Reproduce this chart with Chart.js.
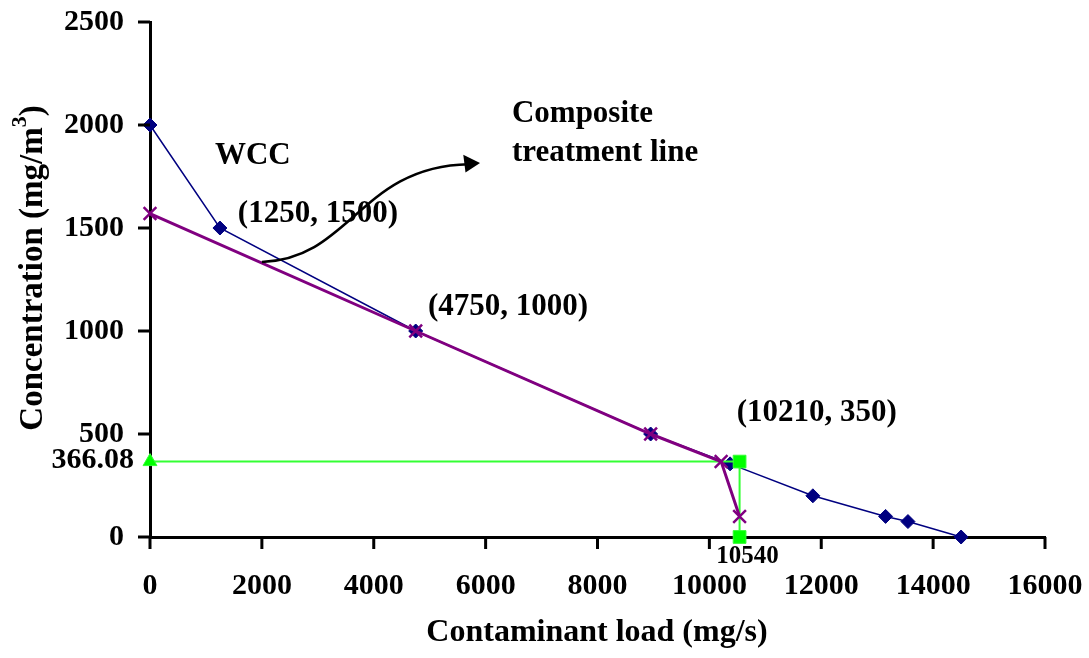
<!DOCTYPE html>
<html lang="en">
<head>
<meta charset="UTF-8">
<title>WCC chart</title>
<script src="https://cdn.jsdelivr.net/npm/chart.js"></script>
<style>
body {margin:0; background:#fff}
#wrap {width:1089px; height:658px; position:relative}
</style>
</head>
<body>
<div id="wrap"><canvas id="myChart" width="1089" height="658"></canvas></div>
<script>
// water composite curve (WCC)
var wccX = [0, 1250, 4750, 8950, 10370, 11850, 13150, 13550, 14500];
var wccY = [2000, 1500, 1000, 500, 355, 200, 100, 75, 0];

// composite treatment line
var compX = [0, 4750, 8950, 10210, 10540];
var compY = [1570, 1000, 500, 366.08, 100];

// green guide lines
var guideX = [0, 10540, 10540];
var guideY = [366.08, 366.08, 0];

var xTicks = [0, 2000, 4000, 6000, 8000, 10000, 12000, 14000, 16000];
var yTicks = [0, 500, 1000, 1500, 2000, 2500];

var serif = '"Liberation Serif", "Times New Roman", serif';

function pts(xs, ys) {
  return xs.map(function (x, i) { return {x: x, y: ys[i]}; });
}

// tick marks, labels, arrow and axis titles
var notes = {
  id: 'notes',
  afterDraw: function (chart) {
    var ctx = chart.ctx;
    var sx = chart.scales.x, sy = chart.scales.y;
    var X = function (v) { return sx.getPixelForValue(v); };
    var Y = function (v) { return sy.getPixelForValue(v); };
    var area = chart.chartArea;
    ctx.save();

    // outside tick marks
    ctx.strokeStyle = '#000';
    ctx.lineWidth = 3;
    ctx.beginPath();
    xTicks.forEach(function (v) {
      ctx.moveTo(X(v), area.bottom);
      ctx.lineTo(X(v), area.bottom + 12);
    });
    yTicks.forEach(function (v) {
      ctx.moveTo(area.left, Y(v));
      ctx.lineTo(area.left - 12, Y(v));
    });
    ctx.stroke();

    ctx.fillStyle = '#000';
    ctx.textBaseline = 'middle';

    ctx.font = 'bold 30px ' + serif;
    ctx.textAlign = 'right';
    ctx.fillText('366.08', 134, Y(366.08) - 1);

    ctx.font = 'bold 25px ' + serif;
    ctx.textAlign = 'center';
    ctx.fillText('10540', X(10540) + 8, Y(0) + 20);

    ctx.font = 'bold 31px ' + serif;
    ctx.textAlign = 'left';
    ctx.fillText('WCC', X(1160), Y(1850));
    ctx.fillText('(1250, 1500)', X(1570), Y(1570));
    ctx.fillText('Composite', X(6470), Y(2055));
    ctx.fillText('treatment line', X(6470), Y(1865));
    ctx.fillText('(4750, 1000)', X(4970), Y(1116));
    ctx.fillText('(10210, 350)', X(10490), Y(603));

    // curved arrow
    ctx.lineWidth = 2.5;
    ctx.beginPath();
    ctx.moveTo(X(2000), Y(1335));
    ctx.bezierCurveTo(X(3600), Y(1350), X(3750), Y(1800), X(5700), Y(1810));
    ctx.stroke();
    ctx.beginPath();
    ctx.moveTo(X(5900), Y(1815));
    ctx.lineTo(X(5600), Y(1855));
    ctx.lineTo(X(5640), Y(1770));
    ctx.closePath();
    ctx.fill();

    // axis titles
    ctx.font = 'bold 32px ' + serif;
    ctx.textAlign = 'center';
    ctx.fillText('Contaminant load (mg/s)', 597, 633);

    ctx.translate(33, 268);
    ctx.rotate(-Math.PI / 2);
    ctx.textAlign = 'left';
    ctx.font = 'bold 33px ' + serif;
    var main = 'Concentration (mg/m';
    var w1 = ctx.measureText(main).width;
    ctx.font = 'bold 22px ' + serif;
    var w2 = ctx.measureText('3').width;
    ctx.font = 'bold 33px ' + serif;
    var w3 = ctx.measureText(')').width;
    var start = -(w1 + w2 + w3) / 2;
    ctx.fillText(main, start, 0);
    ctx.font = 'bold 22px ' + serif;
    ctx.fillText('3', start + w1, -13);
    ctx.font = 'bold 33px ' + serif;
    ctx.fillText(')', start + w1 + w2, 0);
    ctx.restore();
  }
};

var ctx = document.getElementById('myChart');
new Chart(ctx, {
  type: 'scatter',
  data: {
    datasets: [{
      label: 'WCC',
      data: pts(wccX, wccY),
      showLine: true,
      borderColor: '#000080',
      backgroundColor: '#000080',
      borderWidth: 1.5,
      pointStyle: 'rectRot',
      pointRadius: 7,
      pointBorderWidth: 1,
      clip: false,
      order: 3
    }, {
      label: 'Guide',
      data: pts(guideX, guideY),
      showLine: true,
      borderColor: '#33ff33',
      backgroundColor: '#00ff00',
      borderWidth: 2,
      pointStyle: ['triangle', 'rect', 'rect'],
      pointRadius: [8, 9, 9],
      pointBorderWidth: 1,
      clip: false,
      order: 2
    }, {
      label: 'Composite treatment line',
      data: pts(compX, compY),
      showLine: true,
      borderColor: '#800080',
      backgroundColor: '#800080',
      borderWidth: 3,
      pointStyle: 'crossRot',
      pointRadius: 9,
      pointBorderWidth: 2.5,
      clip: false,
      order: 1
    }]
  },
  options: {
    responsive: false,
    animation: false,
    layout: {padding: {top: 22, right: 44, left: 0, bottom: 0}},
    plugins: {legend: {display: false}, tooltip: {enabled: false}},
    scales: {
      x: {
        type: 'linear',
        min: 0,
        max: 16000,
        afterBuildTicks: function (s) { s.ticks = xTicks.map(function (v) { return {value: v}; }); },
        afterFit: function (s) { s.height = 121; s.paddingLeft = 0; s.paddingRight = 0; },
        border: {color: '#000', width: 3},
        grid: {drawOnChartArea: false, drawTicks: false},
        ticks: {color: '#000', padding: 31, maxRotation: 0, font: {family: serif, size: 30, weight: 'bold'},
          callback: function (v) { return String(v); }}
      },
      y: {
        type: 'linear',
        min: 0,
        max: 2500,
        afterBuildTicks: function (s) { s.ticks = yTicks.map(function (v) { return {value: v}; }); },
        afterFit: function (s) { s.width = 150; s.paddingTop = 0; s.paddingBottom = 0; },
        border: {color: '#000', width: 3},
        grid: {drawOnChartArea: false, drawTicks: false},
        ticks: {color: '#000', padding: 26, font: {family: serif, size: 30, weight: 'bold'},
          callback: function (v) { return String(v); }}
      }
    }
  },
  plugins: [notes]
});
</script>
</body>
</html>
